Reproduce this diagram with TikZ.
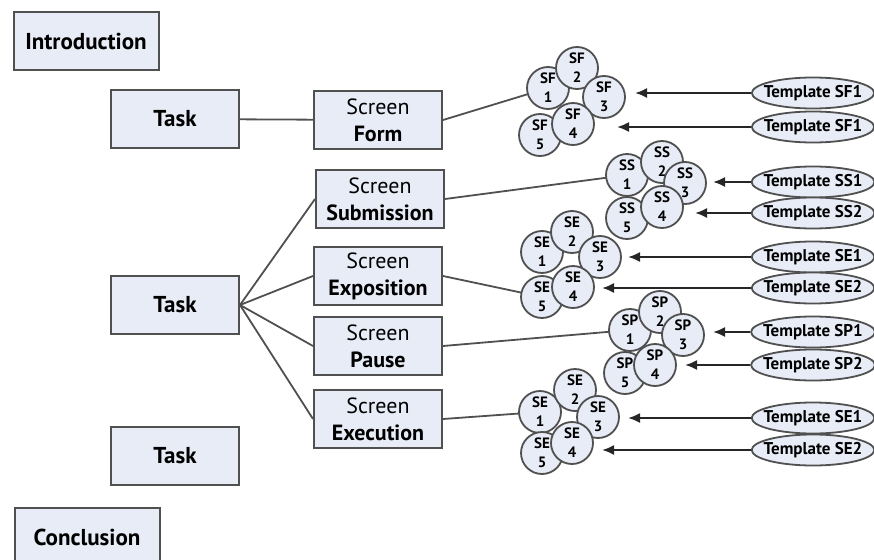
\documentclass[tikz,border=0pt]{standalone}
\usepackage{fontspec}
\setmainfont{PT Sans}
\usepackage{tikz}
\usetikzlibrary{shapes,arrows,arrows.meta,positioning,calc}

\definecolor{boxfill}{HTML}{E8ECF6}
\definecolor{edgegray}{HTML}{505050}

\begin{document}
\begin{tikzpicture}[
    x=1pt, y=-1pt,
    part/.style={rectangle, draw=edgegray, line width=2pt, fill=boxfill, minimum width=145pt, minimum height=58pt, font=\fontsize{23}{26}\selectfont\bfseries},
    task/.style={part, minimum width=128pt},
    screen/.style={rectangle, draw=edgegray, line width=2pt, fill=boxfill, minimum width=128pt, minimum height=58pt, inner sep=1pt, align=center, font=\fontsize{22}{27}\selectfont},
    item/.style={circle, draw=edgegray, line width=1.8pt, fill=boxfill, minimum size=42pt, inner sep=-4pt, align=center, font=\fontsize{15}{19}\selectfont\bfseries},
    tmpl/.style={ellipse, draw=edgegray, line width=1.8pt, fill=boxfill, minimum width=122pt, minimum height=31pt, inner xsep=-6pt, inner ysep=0pt, font=\fontsize{17}{18}\selectfont\bfseries},
    link/.style={draw=edgegray, line width=1.8pt},
    dep/.style={-{Latex[length=12pt,width=10pt]}, line width=2pt, black!85}
]
    \useasboundingbox (0,0) rectangle (874,559);

    % Outline
    \node[part] (intro) at (86,41) {Introduction};
    \node[task] (taskA) at (175,119) {Task};
    \node[task] (taskB) at (175,305) {Task};
    \node[task] (taskC) at (175,456) {Task};
    \node[part] (concl) at (87,537) {Conclusion};

    % Screens
    \node[screen] (form) at (378,120) {Screen\\\textbf{Form}};
    \node[screen] (subm) at (380,199) {Screen\\\textbf{Submission}};
    \node[screen] (expo) at (378,276) {Screen\\\textbf{Exposition}};
    \node[screen] (pause) at (378,346) {Screen\\\textbf{Pause}};
    \node[screen] (exec) at (378,419) {Screen\\\textbf{Execution}};

    % Screen links
    \draw[link] (taskA) -- (form);
    \draw[link] (taskB.east) -- (subm.west);
    \draw[link] (taskB.east) -- (expo.west);
    \draw[link] (taskB.east) -- (pause.west);
    \draw[link] (taskB.east) -- (exec.west);
    \draw[link] (form.east) -- (548,88);
    \draw[link] (subm.east) -- (627,175);
    \draw[link] (expo.east) -- (542,297);
    \draw[link] (pause.east) -- (630,330);
    \draw[link] (exec.east) -- (540,412);

    % Form items
    \node[item] (sf1) at (548,88) {SF\\1};
    \node[item] (sf2) at (577,68) {SF\\2};
    \node[item] (sf3) at (604,97) {SF\\3};
    \node[item] (sf5) at (540,135) {SF\\5};
    \node[item] (sf4) at (573,124) {SF\\4};

    % Submission items
    \node[item] (ss1) at (627,175) {SS\\1};
    \node[item] (ss2) at (662,162) {SS\\2};
    \node[item] (ss3) at (685,183) {SS\\3};
    \node[item] (ss5) at (627,218) {SS\\5};
    \node[item] (ss4) at (662,207) {SS\\4};

    % Exposition items
    \node[item] (sea1) at (542,252) {SE\\1};
    \node[item] (sea2) at (572,232) {SE\\2};
    \node[item] (sea3) at (600,257) {SE\\3};
    \node[item] (sea5) at (542,297) {SE\\5};
    \node[item] (sea4) at (573,287) {SE\\4};

    % Pause items
    \node[item] (sp1) at (630,330) {SP\\1};
    \node[item] (sp2) at (660,312) {SP\\2};
    \node[item] (sp3) at (683,335) {SP\\3};
    \node[item] (sp5) at (625,373) {SP\\5};
    \node[item] (sp4) at (655,365) {SP\\4};

    % Execution items
    \node[item] (seb1) at (540,412) {SE\\1};
    \node[item] (seb2) at (575,390) {SE\\2};
    \node[item] (seb3) at (598,417) {SE\\3};
    \node[item] (seb5) at (542,453) {SE\\5};
    \node[item] (seb4) at (572,443) {SE\\4};

    % Templates
    \node[tmpl] (tsf1) at (813,93) {Template SF1};
    \node[tmpl] (tsf2) at (813,127) {Template SF1};
    \node[tmpl] (tss1) at (813,182) {Template SS1};
    \node[tmpl] (tss2) at (813,213) {Template SS2};
    \node[tmpl] (tse1) at (813,257) {Template SE1};
    \node[tmpl] (tse2) at (813,288) {Template SE2};
    \node[tmpl] (tsp1) at (813,332) {Template SP1};
    \node[tmpl] (tsp2) at (813,365) {Template SP2};
    \node[tmpl] (tse3) at (813,418) {Template SE1};
    \node[tmpl] (tse4) at (813,450) {Template SE2};

    % Arrow ends
    \coordinate (asf1) at (635,93);
    \coordinate (asf2) at (617,127);
    \coordinate (ass1) at (713,182);
    \coordinate (ass2) at (695,213);
    \coordinate (ase1) at (628,257);
    \coordinate (ase2) at (602,288);
    \coordinate (asp1) at (713,332);
    \coordinate (asp2) at (685,365);
    \coordinate (ase3) at (628,418);
    \coordinate (ase4) at (602,450);

    % Template arrows
    \draw[dep] (tsf1) -- (asf1);
    \draw[dep] (tsf2) -- (asf2);
    \draw[dep] (tss1) -- (ass1);
    \draw[dep] (tss2) -- (ass2);
    \draw[dep] (tse1) -- (ase1);
    \draw[dep] (tse2) -- (ase2);
    \draw[dep] (tsp1) -- (asp1);
    \draw[dep] (tsp2) -- (asp2);
    \draw[dep] (tse3) -- (ase3);
    \draw[dep] (tse4) -- (ase4);
\end{tikzpicture}
\end{document}
